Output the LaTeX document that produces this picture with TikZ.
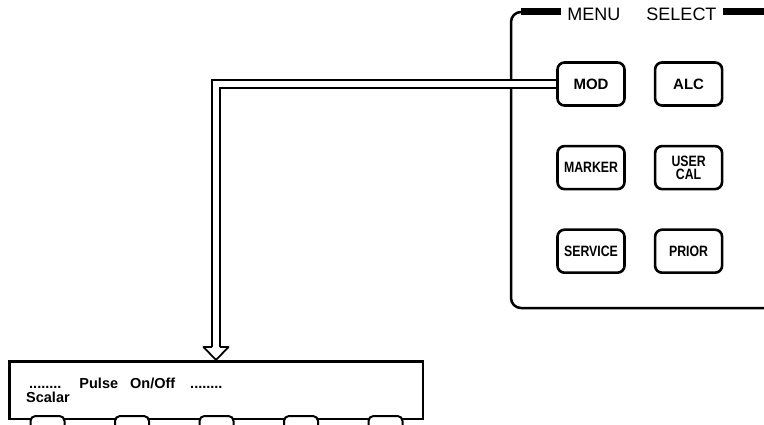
\documentclass[tikz,border=0pt]{standalone}
\usepackage{fontspec}
\setmainfont{Liberation Sans}
\newfontfamily\narrowfont[FakeStretch=0.82]{Liberation Sans}
\usetikzlibrary{positioning}

\begin{document}
\begin{tikzpicture}[
    x=1pt, y=-1pt,
    node distance=28pt,
    menukey/.style={draw, line width=2.6pt, rounded corners=7pt, minimum width=67pt, minimum height=43pt, inner sep=0pt, align=center, font=\bfseries\fontsize{15}{13.5}\selectfont},
    narrow/.style={font=\narrowfont\bfseries\fontsize{15}{13.5}\selectfont},
    softkey/.style={draw, fill=white, line width=2pt, rounded corners=5pt, minimum width=34pt, minimum height=28pt},
    panel/.style={line width=2.5pt, rounded corners=10pt},
    display/.style={draw, line width=2.5pt, minimum width=413.5pt, minimum height=57.5pt, inner sep=0pt},
    disptext/.style={anchor=base west, inner sep=0pt, font=\bfseries\fontsize{14.5}{14.5}\selectfont},
    link/.style={double=white, double distance=6pt, line width=1.8pt},
    head/.style={line width=1.8pt, line join=round}
]
\clip (0,0) rectangle (764,425);

% Menu select panel
\draw[panel] (790,308) -- (511,308) -- (511,12) -- (790,12);
\draw[line width=7pt] (521,12) -- (790,12);
\node[fill=white, inner xsep=6pt, font=\fontsize{18}{18}\selectfont] (menuhead) at (642,14) {MENU\hspace{26pt}SELECT};

% Menu keys
\node[menukey] (mod) at (591,84) {MOD};
\node[menukey, right=of mod] (alc) {ALC};
\node[menukey, narrow, below=38pt of mod] (marker) {MARKER};
\node[menukey, narrow, right=of marker] (usercal) {USER\\CAL};
\node[menukey, narrow, below=38pt of marker] (service) {SERVICE};
\node[menukey, narrow, right=of service] (prior) {PRIOR};

% Display
\node[display] (disp) at (216,390) {};
\node[disptext] (pulse) at (29,388) {........\hspace{18pt}Pulse\hspace{12pt}On/Off\hspace{15pt}........};
\node[disptext] (scalar) at (26,402) {Scalar};

% Softkeys
\node[softkey] (key1) at (47.5,430) {};
\node[softkey, right=48.5pt of key1] (key2) {};
\node[softkey, right=48.5pt of key2] (key3) {};
\node[softkey, right=48.5pt of key3] (key4) {};
\node[softkey, right=48.5pt of key4] (key5) {};

% MOD to display, hollow head
\draw[link] (mod.west) -| ([yshift=13pt]disp.north);
\draw[head] ([xshift=-3.9pt, yshift=13pt]disp.north) -- ([xshift=-12.5pt, yshift=13pt]disp.north)
    -- (disp.north) -- ([xshift=12.5pt, yshift=13pt]disp.north) -- ([xshift=3.9pt, yshift=13pt]disp.north);

\end{tikzpicture}
\end{document}
